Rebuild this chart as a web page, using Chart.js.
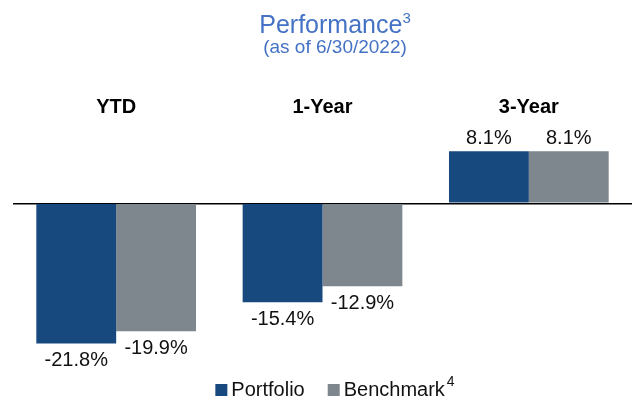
<!DOCTYPE html>
<html>
<head>
<meta charset="utf-8">
<script src="https://cdn.jsdelivr.net/npm/chart.js@4"></script>
<style>
  html, body { margin: 0; padding: 0; background: #fff; }
  #wrap { width: 632px; height: 401px; position: relative; }
</style>
</head>
<body>
<div id="wrap"><canvas id="c" width="632" height="401"></canvas></div>
<script>
const categories = ['YTD', '1-Year', '3-Year'];
const seriesNames = ['Portfolio', 'Benchmark'];
const seriesSup = ['', '4'];
const portfolio = [-21.8, -15.4, 8.1];
const benchmark = [-19.9, -12.9, 8.1];
const seriesColors = ['#17497E', '#7E878D'];
const titleText = 'Performance';
const titleSup = '3';
const subtitleText = '(as of 6/30/2022)';
const FONT = '"Liberation Sans", Arial, sans-serif';

const valueLabels = {
  id: 'valueLabels',
  afterDatasetsDraw(chart) {
    const ctx = chart.ctx;
    ctx.save();
    ctx.font = '20px ' + FONT;
    ctx.fillStyle = '#111';
    ctx.textAlign = 'center';
    ctx.textBaseline = 'alphabetic';
    chart.data.datasets.forEach((ds, di) => {
      const meta = chart.getDatasetMeta(di);
      meta.data.forEach((bar, i) => {
        const v = ds.data[i];
        const txt = v.toFixed(1) + '%';
        const y = v >= 0 ? bar.y - 7 : bar.y + 23;
        ctx.fillText(txt, bar.x, y);
      });
    });
    ctx.restore();
  }
};

const headerLegend = {
  id: 'headerLegend',
  afterDraw(chart) {
    const ctx = chart.ctx;
    const cx = 335;
    ctx.save();
    ctx.fillStyle = '#4472C4';
    ctx.textBaseline = 'alphabetic';
    ctx.textAlign = 'left';
    ctx.font = '25px ' + FONT;
    const w1 = ctx.measureText(titleText).width;
    ctx.font = '15px ' + FONT;
    const w2 = ctx.measureText(titleSup).width;
    let x = cx - (w1 + w2) / 2;
    ctx.font = '25px ' + FONT;
    ctx.fillText(titleText, x, 33);
    ctx.font = '15px ' + FONT;
    ctx.fillText(titleSup, x + w1, 23);
    ctx.font = '19px ' + FONT;
    ctx.textAlign = 'center';
    ctx.fillText(subtitleText, cx, 53);

    // legend
    ctx.textAlign = 'left';
    const box = 12, gap = 4, itemGap = 23;
    const items = seriesNames.map((n, i) => {
      ctx.font = '20px ' + FONT;
      const tw = ctx.measureText(n).width;
      ctx.font = '14px ' + FONT;
      const sw = seriesSup[i] ? ctx.measureText(seriesSup[i]).width + 2 : 0;
      return { n, tw, sw, color: seriesColors[i], sup: seriesSup[i] };
    });
    let total = 0;
    items.forEach((it, i) => { total += box + gap + it.tw + it.sw + (i < items.length - 1 ? itemGap : 0); });
    x = cx - total / 2;
    const base = 396;
    items.forEach((it) => {
      ctx.fillStyle = it.color;
      ctx.fillRect(x, 384, box, box);
      x += box + gap;
      ctx.fillStyle = '#111';
      ctx.font = '20px ' + FONT;
      ctx.fillText(it.n, x, base);
      x += it.tw;
      if (it.sup) {
        ctx.font = '14px ' + FONT;
        ctx.fillText(it.sup, x + 2, base - 10);
        x += it.sw;
      }
      x += itemGap;
    });
    ctx.restore();
  }
};

new Chart(document.getElementById('c'), {
  type: 'bar',
  data: {
    labels: categories,
    datasets: [
      { label: seriesNames[0], data: portfolio, backgroundColor: seriesColors[0] },
      { label: seriesNames[1], data: benchmark, backgroundColor: seriesColors[1] }
    ]
  },
  options: {
    responsive: false,
    animation: false,
    devicePixelRatio: 1,
    categoryPercentage: 0.774,
    barPercentage: 1,
    layout: { padding: { top: 83, left: 13, right: -2, bottom: 37 } },
    plugins: {
      legend: { display: false },
      title: { display: false },
      tooltip: { enabled: false }
    },
    scales: {
      x: {
        position: 'top',
        grid: { display: false },
        border: { display: false },
        ticks: { color: '#000', padding: 12, font: { family: FONT, size: 20, weight: 'bold' } }
      },
      y: {
        min: -25,
        max: 10,
        ticks: { display: false },
        border: { display: false },
        grid: {
          drawTicks: false,
          lineWidth: 1.5,
          color: (c) => (c.tick && c.tick.value === 0 ? '#000' : 'rgba(0,0,0,0)')
        }
      }
    }
  },
  plugins: [valueLabels, headerLegend]
});
</script>
</body>
</html>
